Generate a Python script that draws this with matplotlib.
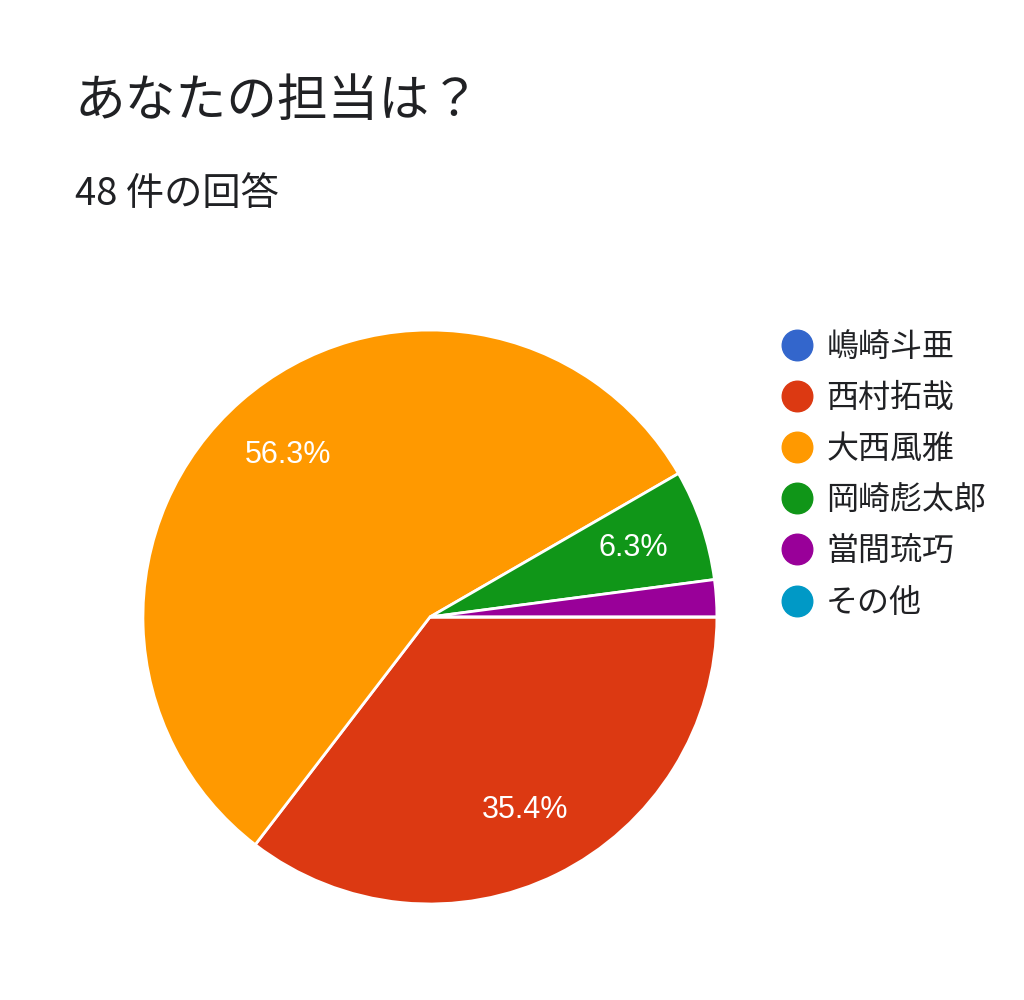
import math
import matplotlib
matplotlib.use("Agg")
import matplotlib.pyplot as plt
from matplotlib.lines import Line2D

plt.rcParams['font.family'] = ['Noto Sans CJK JP', 'DejaVu Sans']

# data (48 responses)
names = ["嶋崎斗亜", "西村拓哉", "大西風雅", "岡崎彪太郎", "當間琉巧", "その他"]
counts = [0, 17, 27, 3, 1, 0]
colors = ["#3366cc", "#dc3912", "#ff9900", "#109618", "#990099", "#0099c6"]
total = sum(counts)

fig = plt.figure(figsize=(10.24, 10), dpi=100)
fig.patch.set_facecolor("white")

fig.text(0.073, 0.898, "あなたの担当は？", fontsize=36.5, color="#202124", va="center")
fig.text(0.073, 0.806, f"{total} 件の回答", fontsize=27.5, color="#202124", va="center")

ax = fig.add_axes([0.1396, 0.096, 0.5605, 0.574])


def pct_label(p):
    # round half up like the original (56.25 -> 56.3)
    return f"{math.floor(p * 10 + 0.5) / 10:.1f}%" if p >= 5 else ""


wedges, texts, autotexts = ax.pie(
    counts, colors=colors, startangle=0, counterclock=False,
    autopct=pct_label, pctdistance=0.75, radius=1,
    wedgeprops=dict(edgecolor="white", linewidth=2),
    textprops=dict(color="white", fontsize=22, family=["Liberation Sans"]))
ax.set_xlim(-1, 1)
ax.set_ylim(-1, 1)
ax.set_aspect("equal")
ax.axis("off")

handles = [Line2D([0], [0], marker="o", linestyle="", markersize=22,
                  markerfacecolor=c, markeredgecolor=c) for c in colors]
fig.legend(handles, names, loc="upper left", bbox_to_anchor=(0.760, 0.669),
           frameon=False, fontsize=23, labelspacing=0.6, handletextpad=0.3,
           borderpad=0, borderaxespad=0, handlelength=1.2,
           labelcolor="#202124")

fig.savefig("out.png", dpi=100, facecolor="white")
